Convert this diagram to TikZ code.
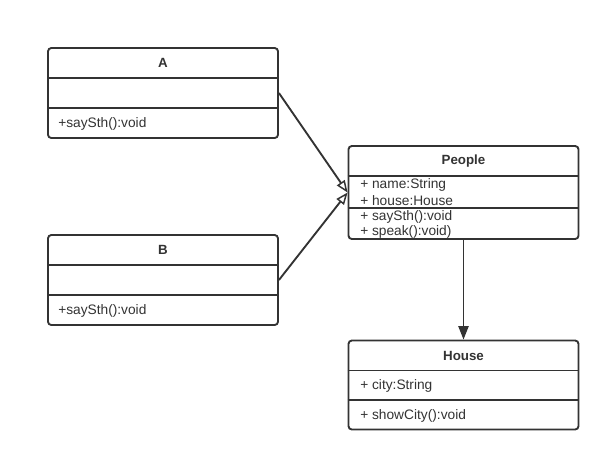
\documentclass[tikz,border=0pt]{standalone}
\usepackage{fontspec}
\setmainfont{Liberation Sans}
\usetikzlibrary{arrows.meta}
\definecolor{ln}{HTML}{333333}
\tikzset{
  cls/.style={draw=ln, line width=1.4pt, rounded corners=2.5pt, inner sep=0pt, minimum width=172.5pt},
  div/.style={draw=ln, line width=1.4pt},
  hdr/.style={font=\fontsize{10}{12}\selectfont\bfseries, text=ln, inner sep=0pt},
  txt/.style={font=\fontsize{10.3}{12}\selectfont, text=ln, inner sep=0pt, anchor=west},
  gen/.style={draw=ln, line width=1.4pt, -{Triangle[open, length=9pt, width=7pt, line width=1.1pt]}},
  comp/.style={draw=ln, line width=1.4pt, -{Triangle[length=10pt, width=7.5pt]}}
}
\begin{document}
\begin{tikzpicture}[x=0.75pt,y=-0.75pt]
\useasboundingbox[fill=white] (0,0) rectangle (611,462);
% class A
\node[cls, minimum height=67.5pt] (A) at (163,93) {};
\node[hdr] (At) at (163,63) {A};
\draw[div] (A.west |- 0,78) -- (A.east |- 0,78);
\draw[div] (A.west |- 0,108) -- (A.east |- 0,108);
\node[txt] (Am) at (58,123.5) {+saySth():void};
% class B
\node[cls, minimum height=67.5pt] (B) at (163,280) {};
\node[hdr] (Bt) at (163,250) {B};
\draw[div] (B.west |- 0,265) -- (B.east |- 0,265);
\draw[div] (B.west |- 0,295) -- (B.east |- 0,295);
\node[txt] (Bm) at (58,310.5) {+saySth():void};
% class People
\node[cls, minimum height=69.75pt] (P) at (463.5,192.5) {};
\node[hdr] (Pt) at (463.5,161) {People};
\draw[div] (P.west |- 0,176) -- (P.east |- 0,176);
\draw[div] (P.west |- 0,208) -- (P.east |- 0,208);
\node[txt] (P1) at (360,184.5) {+ name:String};
\node[txt] (P2) at (360,200.5) {+ house:House};
\node[txt] (P3) at (360,216.5) {+ saySth():void};
\node[txt] (P4) at (360,232) {+ speak():void)};
% class House
\node[cls, minimum height=66.75pt] (H) at (463.5,385) {};
\node[hdr] (Ht) at (463.5,355.5) {House};
\draw[div] (H.west |- 0,370.5) -- (H.east |- 0,370.5);
\draw[div] (H.west |- 0,400) -- (H.east |- 0,400);
\node[txt] (H1) at (360,385.5) {+ city:String};
\node[txt] (H2) at (360,415.5) {+ showCity():void};
% connectors
\draw[gen] (A.east) -- (P.west);
\draw[gen] (B.east) -- (P.west);
\draw[comp] (P.south) -- (H.north);
\end{tikzpicture}
\end{document}
